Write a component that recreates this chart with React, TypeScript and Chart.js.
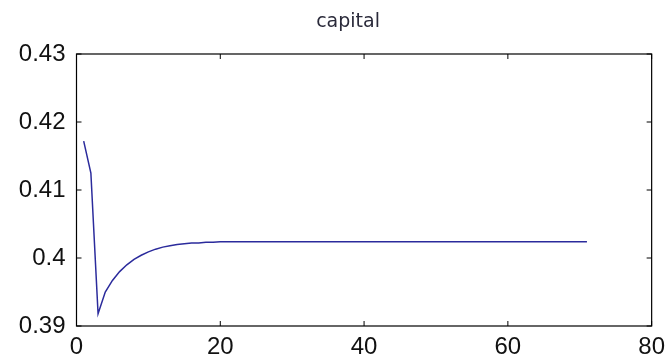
import React, { useEffect, useRef } from "react";
import { Chart, registerables } from "chart.js";

Chart.register(...registerables);

const chartTitle = "capital";
const xTickValues = [0, 20, 40, 60, 80];
const yTickValues = [0.39, 0.4, 0.41, 0.42, 0.43];

const earlyValues = [
  0.4172, 0.4125, 0.3918, 0.395, 0.3967, 0.398, 0.399, 0.3998, 0.4004, 0.4009,
  0.4013, 0.4016, 0.4018, 0.402, 0.4021, 0.4022, 0.4022, 0.4023, 0.4023,
];
const steadyValues = [
  0.4024, 0.4024, 0.4024, 0.4024, 0.4024, 0.4024, 0.4024, 0.4024, 0.4024, 0.4024,
  0.4024, 0.4024, 0.4024, 0.4024, 0.4024, 0.4024, 0.4024, 0.4024, 0.4024, 0.4024,
  0.4024, 0.4024, 0.4024, 0.4024, 0.4024, 0.4024, 0.4024, 0.4024, 0.4024, 0.4024,
  0.4024, 0.4024, 0.4024, 0.4024, 0.4024, 0.4024, 0.4024, 0.4024, 0.4024, 0.4024,
  0.4024, 0.4024, 0.4024, 0.4024, 0.4024, 0.4024, 0.4024, 0.4024, 0.4024, 0.4024,
  0.4024, 0.4024,
];
const capitalValues = [...earlyValues, ...steadyValues];
const periods = capitalValues.map((_, i) => i + 1);

const boxPlugin = {
  id: "matlabBox",
  afterDraw(chart: any) {
    const { ctx, chartArea } = chart;
    const xs = chart.scales.x;
    const ys = chart.scales.y;
    const len = 5;
    ctx.save();
    ctx.strokeStyle = "#000";
    ctx.lineWidth = 1;
    ctx.beginPath();
    xTickValues.forEach((v) => {
      const px = xs.getPixelForValue(v);
      ctx.moveTo(px, chartArea.bottom);
      ctx.lineTo(px, chartArea.bottom - len);
      ctx.moveTo(px, chartArea.top);
      ctx.lineTo(px, chartArea.top + len);
    });
    yTickValues.forEach((v) => {
      const py = ys.getPixelForValue(v);
      ctx.moveTo(chartArea.left, py);
      ctx.lineTo(chartArea.left + len, py);
      ctx.moveTo(chartArea.right, py);
      ctx.lineTo(chartArea.right - len, py);
    });
    ctx.stroke();
    ctx.lineWidth = 1.2;
    ctx.strokeRect(
      chartArea.left,
      chartArea.top,
      chartArea.right - chartArea.left,
      chartArea.bottom - chartArea.top
    );
    // title
    ctx.fillStyle = "#2a2a3a";
    ctx.font = "19px 'DejaVu Sans'";
    ctx.textAlign = "center";
    ctx.textBaseline = "middle";
    ctx.fillText(chartTitle, (chartArea.left + chartArea.right) / 2 - 16, 22);
    ctx.restore();
  },
};

export default function App() {
  const ref = useRef<HTMLCanvasElement | null>(null);

  useEffect(() => {
    if (!ref.current) return;
    const chart = new Chart(ref.current, {
      type: "line",
      data: {
        datasets: [
          {
            data: periods.map((p, i) => ({ x: p, y: capitalValues[i] })),
            borderColor: "#2b2b9c",
            borderWidth: 1.5,
            pointRadius: 0,
            tension: 0,
            fill: false,
          },
        ],
      },
      options: {
        animation: false,
        responsive: false,
        maintainAspectRatio: false,
        layout: { padding: { left: 0, right: 13, top: 54, bottom: 0 } },
        plugins: {
          legend: { display: false },
          tooltip: { enabled: false },
          title: { display: false },
        },
        scales: {
          x: {
            type: "linear",
            min: 0,
            max: 80,
            afterFit: (s: any) => {
              s.height = 34;
            },
            afterBuildTicks: (s: any) => {
              s.ticks = xTickValues.map((v) => ({ value: v }));
            },
            grid: { display: false, drawTicks: false },
            border: { display: false },
            ticks: {
              color: "#111",
              padding: 7,
              maxRotation: 0,
              font: { family: "Liberation Sans", size: 24 },
              callback: (v: any) => String(v),
            },
          },
          y: {
            type: "linear",
            min: 0.39,
            max: 0.43,
            afterFit: (s: any) => {
              s.width = 76.5;
            },
            afterBuildTicks: (s: any) => {
              s.ticks = yTickValues.map((v) => ({ value: v }));
            },
            grid: { display: false, drawTicks: false },
            border: { display: false },
            ticks: {
              color: "#111",
              padding: 11,
              font: { family: "Liberation Sans", size: 24 },
              callback: (v: any) => String(Number(Number(v).toFixed(2))),
            },
          },
        },
      },
      plugins: [boxPlugin],
    });
    return () => chart.destroy();
  }, []);

  return (
    <div style={{ position: "fixed", left: 0, top: 0, width: 672, height: 360, background: "#fff" }}>
      <canvas ref={ref} width={672} height={360} style={{ width: 672, height: 360 }} />
    </div>
  );
}
